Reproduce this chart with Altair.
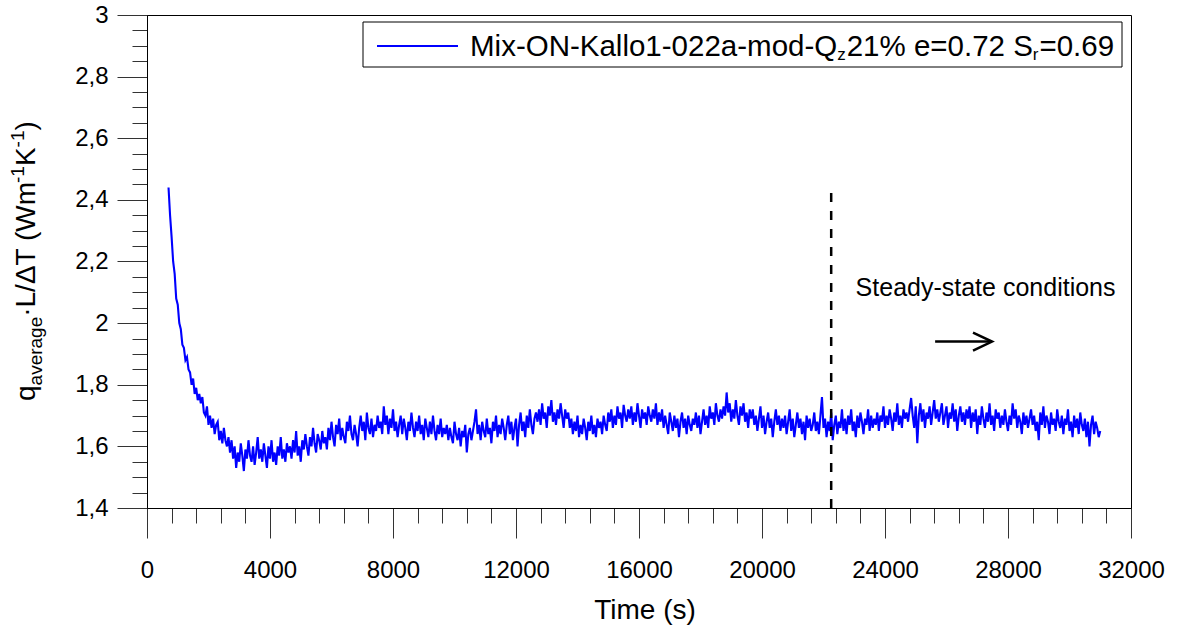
import altair as alt
import pandas as pd

FONT = "Liberation Sans"

# ---- data (time step 50 s, starting at 700 s) ----
q_rows = [
    [2.44, 2.35, 2.28, 2.20, 2.16, 2.08, 2.06, 2.00, 1.98, 1.93, 1.92, 1.88, 1.89, 1.85, 1.84, 1.80, 1.82, 1.77, 1.79, 1.75],
    [1.77, 1.74, 1.76, 1.71, 1.70, 1.73, 1.67, 1.70, 1.66, 1.69, 1.64, 1.67, 1.68, 1.62, 1.65, 1.61, 1.66, 1.62, 1.60, 1.63],
    [1.58, 1.62, 1.56, 1.60, 1.53, 1.58, 1.55, 1.61, 1.57, 1.52, 1.59, 1.56, 1.62, 1.57, 1.55, 1.60, 1.54, 1.58, 1.63, 1.56],
    [1.59, 1.55, 1.61, 1.57, 1.53, 1.60, 1.56, 1.62, 1.55, 1.58, 1.54, 1.60, 1.57, 1.63, 1.56, 1.59, 1.55, 1.61, 1.58, 1.60],
    [1.56, 1.62, 1.58, 1.65, 1.57, 1.60, 1.55, 1.62, 1.59, 1.64, 1.60, 1.57, 1.63, 1.60, 1.66, 1.61, 1.58, 1.64, 1.62, 1.59],
    [1.65, 1.61, 1.63, 1.59, 1.66, 1.62, 1.68, 1.63, 1.60, 1.67, 1.64, 1.69, 1.62, 1.66, 1.63, 1.61, 1.68, 1.65, 1.70, 1.64],
    [1.62, 1.67, 1.64, 1.60, 1.66, 1.70, 1.65, 1.68, 1.62, 1.71, 1.66, 1.64, 1.69, 1.63, 1.67, 1.65, 1.70, 1.66, 1.68, 1.64],
    [1.73, 1.67, 1.70, 1.64, 1.69, 1.66, 1.72, 1.65, 1.68, 1.63, 1.67, 1.70, 1.64, 1.69, 1.66, 1.62, 1.68, 1.65, 1.71, 1.66],
    [1.63, 1.68, 1.65, 1.70, 1.64, 1.67, 1.62, 1.69, 1.66, 1.63, 1.68, 1.64, 1.70, 1.65, 1.62, 1.67, 1.64, 1.69, 1.63, 1.66],
    [1.64, 1.67, 1.62, 1.66, 1.63, 1.61, 1.68, 1.64, 1.62, 1.66, 1.60, 1.65, 1.63, 1.67, 1.58, 1.64, 1.66, 1.62, 1.65, 1.68],
    [1.72, 1.64, 1.67, 1.62, 1.68, 1.65, 1.63, 1.69, 1.64, 1.66, 1.61, 1.68, 1.65, 1.70, 1.63, 1.67, 1.64, 1.69, 1.66, 1.62],
    [1.67, 1.70, 1.64, 1.68, 1.62, 1.66, 1.69, 1.60, 1.67, 1.71, 1.65, 1.68, 1.63, 1.70, 1.66, 1.72, 1.67, 1.64, 1.69, 1.71],
    [1.68, 1.72, 1.67, 1.74, 1.69, 1.71, 1.66, 1.73, 1.70, 1.75, 1.68, 1.71, 1.67, 1.72, 1.69, 1.74, 1.70, 1.66, 1.72, 1.69],
    [1.71, 1.66, 1.69, 1.64, 1.68, 1.65, 1.70, 1.63, 1.67, 1.64, 1.69, 1.66, 1.62, 1.68, 1.65, 1.70, 1.64, 1.67, 1.63, 1.69],
    [1.66, 1.68, 1.64, 1.70, 1.67, 1.65, 1.71, 1.68, 1.72, 1.66, 1.70, 1.67, 1.73, 1.69, 1.71, 1.66, 1.735, 1.70, 1.68, 1.72],
    [1.69, 1.73, 1.67, 1.71, 1.68, 1.74, 1.70, 1.66, 1.72, 1.69, 1.71, 1.67, 1.73, 1.70, 1.68, 1.72, 1.69, 1.74, 1.67, 1.71],
    [1.68, 1.72, 1.66, 1.70, 1.67, 1.64, 1.71, 1.68, 1.65, 1.70, 1.66, 1.69, 1.63, 1.68, 1.71, 1.66, 1.69, 1.64, 1.70, 1.67],
    [1.65, 1.69, 1.67, 1.71, 1.66, 1.70, 1.64, 1.68, 1.72, 1.67, 1.70, 1.66, 1.73, 1.69, 1.71, 1.67, 1.74, 1.70, 1.68, 1.72],
    [1.69, 1.73, 1.70, 1.775, 1.71, 1.74, 1.68, 1.72, 1.69, 1.75, 1.70, 1.67, 1.73, 1.70, 1.74, 1.68, 1.71, 1.66, 1.72, 1.69],
    [1.72, 1.67, 1.70, 1.65, 1.69, 1.73, 1.66, 1.70, 1.64, 1.68, 1.71, 1.66, 1.69, 1.63, 1.68, 1.72, 1.67, 1.70, 1.65, 1.69],
    [1.66, 1.70, 1.64, 1.68, 1.72, 1.65, 1.69, 1.63, 1.67, 1.71, 1.66, 1.69, 1.64, 1.68, 1.62, 1.70, 1.66, 1.69, 1.65, 1.67],
    [1.71, 1.65, 1.68, 1.64, 1.70, 1.76, 1.66, 1.69, 1.63, 1.68, 1.65, 1.71, 1.62, 1.67, 1.70, 1.64, 1.68, 1.66, 1.72, 1.65],
    [1.69, 1.64, 1.70, 1.67, 1.72, 1.65, 1.68, 1.63, 1.70, 1.66, 1.71, 1.68, 1.64, 1.69, 1.67, 1.72, 1.65, 1.70, 1.66, 1.69],
    [1.67, 1.71, 1.65, 1.70, 1.68, 1.73, 1.66, 1.70, 1.67, 1.72, 1.69, 1.65, 1.71, 1.68, 1.74, 1.67, 1.70, 1.66, 1.72, 1.69],
    [1.71, 1.68, 1.72, 1.757, 1.70, 1.66, 1.73, 1.61, 1.70, 1.74, 1.68, 1.72, 1.66, 1.71, 1.69, 1.73, 1.67, 1.71, 1.75, 1.69],
    [1.72, 1.68, 1.71, 1.74, 1.67, 1.70, 1.73, 1.66, 1.71, 1.69, 1.74, 1.68, 1.72, 1.65, 1.70, 1.73, 1.68, 1.71, 1.67, 1.72],
    [1.69, 1.73, 1.66, 1.71, 1.68, 1.72, 1.64, 1.70, 1.67, 1.73, 1.69, 1.66, 1.71, 1.68, 1.74, 1.67, 1.70, 1.65, 1.72, 1.69],
    [1.71, 1.66, 1.70, 1.67, 1.72, 1.68, 1.65, 1.70, 1.67, 1.74, 1.69, 1.72, 1.66, 1.70, 1.68, 1.64, 1.71, 1.67, 1.70, 1.66],
    [1.69, 1.72, 1.67, 1.70, 1.65, 1.68, 1.62, 1.71, 1.67, 1.73, 1.66, 1.70, 1.68, 1.64, 1.71, 1.67, 1.69, 1.65, 1.72, 1.68],
    [1.66, 1.70, 1.64, 1.69, 1.67, 1.72, 1.65, 1.68, 1.63, 1.70, 1.66, 1.69, 1.64, 1.71, 1.67, 1.65, 1.69, 1.63, 1.68, 1.60],
    [1.67, 1.70, 1.64, 1.68, 1.66, 1.63, 1.65],
]
q_values = [v for row in q_rows for v in row]
t_start, t_step = 700, 50
time_s = [t_start + t_step * i for i in range(len(q_values))]

series_label = "Mix-ON-Kallo1-022a-mod-Qz21% e=0.72 Sr=0.69"

# annotations (data coordinates)
steady_t = [22250]
steady_q = [1.4, 2.43]
arrow_t = [25630, 27480]
arrow_q = [1.94]
note_t, note_q = [27270], [2.088]
note_text = ["Steady-state conditions"]

# axes
x_major = list(range(0, 32001, 4000))
x_minor = list(range(0, 32001, 800))
y_major = [round(1.4 + 0.2 * i, 2) for i in range(9)]
y_minor = [round(1.4 + 0.05 * i, 2) for i in range(33)]

W, H = 984, 493
xs = alt.Scale(domain=[0, 32000], nice=False, zero=False)
ys = alt.Scale(domain=[1.4, 3.0], nice=False, zero=False)

df = pd.DataFrame({"t": time_s, "q": q_values})

line = alt.Chart(df).mark_line(color="#0000FF", strokeWidth=2.1).encode(
    x=alt.X("t:Q", scale=xs, axis=alt.Axis(values=x_major, tickSize=30, labelPadding=20,
                                           format="d", title=None, orient="bottom",
                                           grid=False, labelFlush=False)),
    y=alt.Y("q:Q", scale=ys, axis=alt.Axis(values=y_major, tickSize=30, labelPadding=9,
                                           labelExpr="replace(format(datum.value, '.2~f'), '.', ',')",
                                           title=None, orient="left", grid=False, labelFlush=False)),
)

rule_df = pd.DataFrame({"t": steady_t, "y0": [steady_q[0]], "y1": [steady_q[1]]})
dashed = alt.Chart(rule_df).mark_rule(strokeDash=[9, 9], strokeWidth=2.5, color="black").encode(
    x=alt.X("t:Q", scale=xs, axis=alt.Axis(values=x_minor, tickSize=15, labels=False,
                                           title=None, orient="bottom", grid=False)),
    y=alt.Y("y0:Q", scale=ys, axis=alt.Axis(values=y_minor, tickSize=15, labels=False,
                                            title=None, orient="left", grid=False)),
    y2="y1:Q",
)

arrow_df = pd.DataFrame({"t0": [arrow_t[0]], "t1": [arrow_t[1]], "q": arrow_q})
arrow_line = alt.Chart(arrow_df).mark_rule(strokeWidth=2.5, color="black").encode(
    x=alt.X("t0:Q", scale=xs, axis=None), x2="t1:Q",
    y=alt.Y("q:Q", scale=ys, axis=None),
)
arrow_head = alt.Chart(arrow_df).mark_point(
    shape="M-1,-0.47L0,0L-1,0.47", size=1444, filled=False, strokeWidth=2.5,
    color="black", opacity=1,
).encode(x=alt.X("t1:Q", scale=xs, axis=None), y=alt.Y("q:Q", scale=ys, axis=None))

note_df = pd.DataFrame({"t": note_t, "q": note_q, "label": note_text})
note = alt.Chart(note_df).mark_text(font=FONT, fontSize=25, align="center",
                                    baseline="alphabetic", color="black").encode(
    x=alt.X("t:Q", scale=xs, axis=None), y=alt.Y("q:Q", scale=ys, axis=None), text="label:N")

one = pd.DataFrame({"k": [0]})


def frag(text, x, y, size, angle=0):
    return alt.Chart(one).mark_text(text=text, font=FONT, fontSize=size, align="left",
                                    baseline="alphabetic", angle=angle, color="black").encode(
        x=alt.value(x), y=alt.value(y))


# legend box
legend_box = alt.Chart(one).mark_rect(fill="white", stroke="black", strokeWidth=1).encode(
    x=alt.value(216), x2=alt.value(975), y=alt.value(7), y2=alt.value(52))
legend_line = alt.Chart(one).mark_rule(color="#0000FF", strokeWidth=2).encode(
    x=alt.value(230), x2=alt.value(311), y=alt.value(31))
LF, LS = 29.5, 17
lx, ly = 323, 41
legend_parts = [
    ("Mix-ON-Kallo1-022a-mod-Q", LF, 0, 12.446 * LF),
    ("z", LS, 4, 0.5 * LS + 1),
    ("21% e=0.72 S", LF, 0, 6.310 * LF),
    ("r", LS, 4, 0.333 * LS + 1),
    ("=0.69", LF, 0, 2.53 * LF),
]
legend_layers = []
cx = lx
for txt, sz, dy, w in legend_parts:
    legend_layers.append(frag(txt, cx, ly + dy, sz))
    cx += w

# y title (rotated)
TF, TS = 28, 19
yx, yy = -112, 386
ytitle_parts = [
    ("q", TF, 0, 0.556 * TF),
    ("average", TS, 7, 3.613 * TS),
    ("\u00b7L/\u0394T (Wm", TF, 0, 4.779 * TF),
    ("-1", TS, -11, 0.889 * TS),
    ("K", TF, 0, 0.667 * TF),
    ("-1", TS, -11, 0.889 * TS),
    (")", TF, 0, 0.333 * TF),
]
ytitle_layers = []
cy = yy
for txt, sz, dx, w in ytitle_parts:
    ytitle_layers.append(frag(txt, yx + dx, cy, sz, angle=270))
    cy -= w

xtitle = alt.Chart(one).mark_text(text="Time (s)", font=FONT, fontSize=28, align="center",
                                  baseline="alphabetic", color="black").encode(
    x=alt.value(498), y=alt.value(604))

chart = alt.layer(
    line, dashed, arrow_line, arrow_head, note, legend_box, legend_line,
    *legend_layers, *ytitle_layers, xtitle,
).resolve_axis(x="independent", y="independent").properties(
    width=W, height=H,
    autosize=alt.AutoSizeParams(type="none"),
    padding={"left": 147, "top": 15, "right": 55, "bottom": 125},
).configure_view(stroke="black", strokeWidth=1).configure_axis(
    domainColor="black", domainWidth=1, tickColor="#333333", tickWidth=1,
    labelColor="black", labelFont=FONT, labelFontSize=24,
)

chart.save("out.html", embed_options={"renderer": "svg", "actions": False})
